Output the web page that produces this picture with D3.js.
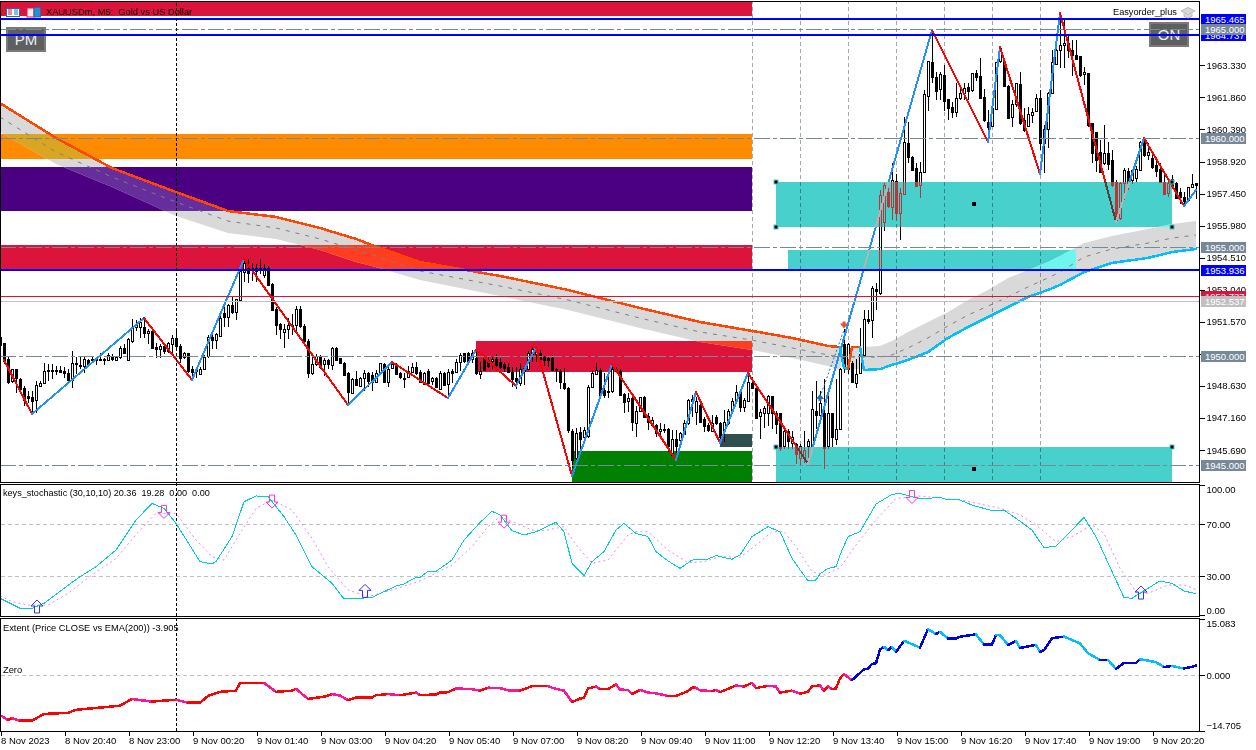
<!DOCTYPE html>
<html>
<head>
<meta charset="utf-8">
<script src="https://cdn.jsdelivr.net/npm/d3@7"></script>
<style>
html, body { margin: 0; padding: 0; background: #fff; }
svg { display: block; }
text { font-family: "Liberation Sans", sans-serif; font-size: 9.5px; fill: #000; white-space: pre; }
</style>
</head>
<body>
<div id="chart"></div>
<script>
// bars, dollars above the 1950 handle
const barOpen = [
.89,.58,-.15,-1.15,-.61,-1.04,-1.45,-1.83,-1.87,-2.06,-1.35,-1.22,-.62,-.64,-.66,-.64,-.69,-.76,-1.07,-.31,
-.40,-.46,-.18,-.18,-.18,-.15,-.12,-.18,0,-.18,-.03,.38,-.18,.69,1.30,1.35,1.35,1.07,1.15,.43,
.31,.46,.23,.58,.84,.46,-.08,.12,-.61,-.64,-.80,-.58,0,.89,.73,.95,1.96,1.76,2.32,2.02,
2.57,3.85,4.05,4.05,3.90,4.05,3.75,4.05,3.32,2.17,1.45,1.07,1.22,1.41,1.45,2.14,1.38,.69,-.80,-.38,
-.03,-.38,-.18,-.38,.38,-.09,-.31,-.80,-1.68,-1.04,-1.35,-.99,-.80,-.89,-1.19,-.80,-.38,-1.19,-.58,-.38,
-.80,-.99,-.95,-.73,-.49,-.72,-1.25,-.67,-1.18,-.99,-1.53,-.76,-1.25,-.67,-.72,-.26,.12,.15,-.15,-.11,
-.80,-.11,-.18,-.26,-.15,-.26,-.37,-.49,-.72,-1.02,-1.25,-.57,-.57,.09,.09,.15,-.06,-.11,-.11,-.61,
-.67,-1.25,-1.48,-3.42,-4.69,-3.47,-3.70,-3.70,-1.44,-.83,-.64,-1.56,-1.67,-1.64,-.61,-.67,-1.74,-2.09,-1.94,-3.06,
-2.52,-1.90,-2.75,-3.17,-3.17,-3.47,-3.36,-3.36,-4.54,-3.82,-3.85,-3.58,-3.09,-1.99,-2.55,-2.25,-2.91,-3.17,-3.42,-2.81,
-3.09,-3.42,-3.06,-2.48,-2.05,-1.64,-2.32,-2.05,-1.25,-1.48,-2.75,-2.60,-2.60,-1.83,-2.63,-2.60,-4.13,-3.44,-3.98,-4.05,
-4.66,-4.62,-4.13,-4.13,-2.52,-2.68,-2.60,-4.13,-2.63,-3.78,-3.33,.54,-.61,-.34,-1.22,-.81,.05,1.71,1.68,3.09,
2.89,6.16,7.54,6.85,8.03,6.54,7.46,9.76,9.14,8.61,7.87,8.46,11.94,13.50,12.81,12.23,12.89,11.77,11.41,11.16,
11.82,12.05,12.32,12.17,12.97,12.85,11.87,10.75,10.52,11.36,13.50,13.50,12.40,10.93,11.54,12.48,10.83,10.52,11.09,11.21,
11.82,9.76,10.40,12.05,13.39,14.04,14.27,14.34,14.04,13.81,13.76,12.94,13.0,10.67,10.26,9.37,8.84,9.33,8.99,8.0,
6.31,7.92,8.5,8.07,8.2,8.53,9.91,9.22,9.07,8.76,8.6,8.0,7.46,8.1,7.95,7.54,7.28,7.16,7.74,7.92];
const barClose = [
.54,-.23,-1.19,-.61,-1.04,-1.48,-1.99,-1.94,-2.06,-1.35,-1.22,-.69,-.66,-.66,-.68,-.73,-.80,-1.07,-.31,-.37,
-.46,-.15,-.38,-.15,-.15,-.12,-.18,.03,-.12,-.05,.38,.15,.80,1.35,1.45,1.56,1.07,1.15,.38,.34,
.46,.23,.58,.84,.46,-.08,.12,-.69,-.73,-.70,-.58,-.03,.89,.73,.99,1.76,1.76,2.32,2.02,2.60,
3.90,4.28,3.82,4.0,4.05,3.94,4.05,3.29,2.14,1.45,1.22,1.22,1.41,1.35,2.17,1.35,.69,-.80,-.38,0,
-.49,-.18,-.38,.38,-.15,-.31,-.84,-1.68,-1.04,-1.30,-.99,-.76,-1.15,-1.22,-.76,-.34,-1.19,-.58,-.38,-.84,
-.99,-1.03,-.69,-.49,-.76,-1.18,-.76,-1.22,-1.02,-1.41,-.80,-1.33,-.72,-.75,-.26,.05,-.26,-.21,.12,-.80,
-.67,-.64,-.46,-.15,-.41,-.49,-.57,-.72,-1.02,-1.18,-.61,-.72,.15,.31,.20,-.11,-.21,-.18,-.64,-.67,
-1.18,-1.48,-3.42,-4.74,-3.55,-3.78,-3.39,-1.44,-.80,-.64,-1.79,-1.79,-1.61,-.61,-.72,-1.79,-2.09,-1.94,-3.06,-2.52,
-1.90,-2.81,-3.01,-2.94,-3.55,-3.36,-3.39,-4.16,-3.82,-4.13,-3.55,-3.09,-2.02,-2.09,-2.05,-3.01,-3.24,-3.42,-3.06,-3.09,
-3.73,-3.01,-2.51,-2.05,-1.67,-2.32,-2.02,-1.18,-1.48,-2.86,-2.57,-2.37,-1.83,-2.63,-3.13,-4.20,-3.44,-3.90,-3.70,-4.51,
-4.13,-4.31,-3.90,-2.45,-2.72,-2.14,-4.20,-2.60,-3.75,-3.33,-.58,-.54,.54,-1.22,-.81,.08,1.68,1.64,3.13,2.98,
7.4,7.84,6.88,8.07,6.54,7.46,9.83,9.14,8.53,7.80,8.46,12.02,13.55,12.81,12.16,12.92,11.71,11.36,11.16,11.82,
12.05,12.28,12.13,12.97,12.77,11.82,10.80,10.52,11.36,13.50,14.11,12.40,10.93,11.54,12.51,10.67,10.37,11.09,11.21,11.82,
9.76,10.41,12.05,13.47,14.04,14.27,14.37,14.0,13.81,13.61,12.89,13.04,10.6,9.3,8.99,8.46,9.30,8.84,7.84,6.24,
7.92,8.53,7.92,8.53,8.6,9.83,9.22,9.37,8.68,8.5,8.0,7.46,7.92,7.84,7.28,7.3,7.08,7.74,7.9,7.84];
const barHigh = [
.95,.58,0,-.58,-.58,-.99,-1.38,-1.61,-1.61,-1.15,-1.15,-.31,-.38,-.38,-.46,-.46,-.49,-.61,.23,-.03,
-.03,-.03,-.15,-.03,-.08,.12,-.08,.12,.08,0,.46,.54,.84,1.71,1.65,1.76,1.76,1.22,1.22,.61,
.54,.54,.64,.95,1.15,.54,.18,.15,-.46,-.54,-.49,.03,.95,.99,1.04,1.91,2.29,2.37,2.75,2.63,
3.98,4.46,4.43,4.28,4.20,4.43,4.20,4.13,3.36,2.26,1.50,1.45,1.76,1.91,2.29,2.29,1.45,.76,.03,.08,
.03,-.08,-.15,.43,.43,-.08,-.28,-.73,-.99,-.69,-.95,-.64,-.73,-.73,-.64,-.31,-.31,-.46,-.23,-.31,
-.73,-.76,-.46,-.31,-.28,-.64,-.72,-.61,-.95,-.95,-.67,-.72,-.61,-.61,-.15,.15,.15,.20,.28,.28,
-.26,0,-.03,-.03,.09,-.11,-.26,-.34,-.49,-.49,-.34,-.49,.24,.43,.35,.28,0,0,.05,-.57,
-.61,-.57,-1.44,-3.36,-3.32,-3.24,-3.24,-1.33,-.67,-.34,-.57,-.80,-.80,-.41,-.49,-.61,-1.68,-1.71,-1.87,-2.29,
-1.87,-1.83,-2.63,-2.81,-3.12,-3.09,-3.12,-3.32,-3.39,-3.39,-3.47,-2.94,-1.99,-1.79,-1.87,-2.20,-2.78,-3.09,-2.71,-2.71,
-3.01,-2.48,-2.45,-1.94,-1.33,-1.56,-1.94,-.83,-.95,-1.41,-2.45,-2.29,-1.80,-1.83,-2.52,-2.60,-3.36,-3.36,-3.44,-3.98,
-4.05,-3.44,-3.82,-1.61,-1.15,-1.61,-1.07,-1.83,-2.60,-1.07,-.54,1.22,.58,-.23,-.15,1.30,2.11,2.11,3.21,3.36,
7.6,7.92,7.69,8.84,8.35,7.69,10.98,10.75,9.17,8.84,8.91,12.20,13.55,14.95,13.04,13.04,13.35,11.77,11.67,12.51,
12.28,12.51,12.51,13.0,13.12,13.65,12.23,11.28,11.74,13.50,14.14,13.58,12.43,11.74,12.54,13.04,11.36,11.41,11.36,12.02,
12.20,10.60,12.13,14.04,14.65,15.72,15.4,14.7,14.5,14.5,13.76,13.27,13.0,10.67,10.29,9.91,10.6,9.83,9.45,8.07,
8.0,8.61,8.61,8.6,8.7,9.88,9.94,9.75,9.27,9.14,8.84,8.38,8.07,8.3,8.0,7.7,7.54,7.77,8.35,7.95];
const barLow = [
.46,-.38,-1.30,-1.22,-1.71,-1.68,-2.29,-2.14,-2.60,-2.60,-1.38,-1.25,-1.15,-1.07,-.89,-.80,-.99,-1.15,-1.45,-.84,
-.61,-.76,-.46,-.31,-.43,-.23,-.43,-.23,-.23,-.23,-.15,.12,-.23,.61,1.15,.84,.84,.54,.31,-.08,
-.08,.08,.15,0,.38,-.31,-.15,-.76,-1.04,-.99,-.84,-.61,-.08,.31,.34,.89,1.35,1.35,1.91,1.64,
2.52,3.39,3.36,3.44,3.39,3.75,3.59,3.24,2.11,.95,.76,.38,.76,.95,.99,1.30,.46,-.99,-.89,-.46,
-.61,-.92,-.61,-.64,-.18,-.34,-.89,-2.14,-1.71,-1.38,-1.38,-1.61,-1.41,-1.61,-1.22,-.84,-1.22,-1.41,-.61,-.89,
-1.04,-1.47,-.99,-.80,-.89,-1.25,-1.33,-1.33,-1.33,-1.48,-1.56,-1.38,-1.94,-1.25,-.76,-.67,-.34,-.26,-.34,-.87,
-1.07,-.67,-.57,-.61,-.67,-.61,-.72,-.80,-1.41,-1.53,-1.38,-1.33,-.61,-.26,-.26,-.34,-.46,-.52,-.67,-1.18,
-1.53,-1.56,-3.55,-5.15,-4.80,-4.54,-3.78,-3.78,-1.48,-.87,-1.83,-1.94,-1.94,-1.68,-.76,-1.83,-2.60,-2.55,-3.42,-3.70,
-2.55,-2.86,-3.39,-3.24,-3.70,-3.70,-3.55,-4.39,-4.62,-4.46,-4.01,-3.62,-3.17,-2.78,-3.17,-3.09,-3.47,-3.47,-3.47,-3.17,
-4.01,-3.93,-3.17,-2.55,-2.09,-2.55,-2.55,-2.09,-1.53,-2.91,-3.82,-3.29,-3.21,-3.36,-3.59,-4.36,-4.28,-4.28,-4.28,-4.97,
-5.05,-4.89,-4.86,-4.20,-3.36,-2.75,-5.20,-4.28,-4.16,-4.08,-3.36,-.80,-.84,-1.25,-1.45,-.84,0,1.45,.81,2.11,
2.8,5.75,6.77,6.24,6.24,5.32,7.46,8.84,8.50,7.77,7.26,8.38,11.25,12.51,11.74,11.74,11.25,10.83,10.90,10.95,
11.74,11.74,11.74,12.13,12.63,11.77,10.75,10.06,10.49,11.28,13.42,12.35,10.90,10.49,11.44,10.60,10.29,10.49,10.67,11.18,
9.45,8.38,9.53,12.02,13.35,13.20,13.2,13.65,12.84,13.6,12.78,12.43,10.52,8.84,8.46,8.38,8.76,8.53,7.77,6.16,
6.24,7.16,7.6,7.9,8.0,8.5,9.14,9.0,8.6,8.23,7.92,7.43,7.3,7.77,7.2,6.97,6.85,7.08,7.7,7.19];
const priceHandle = 1950;

// zigzag pivots
const zigBar = [1,8,36,48,61,87,98,112,119,129,134,143,153,169,174,180,187,202,233,247,250,260,265,279,286,296,299];
const zigPrice = [1949.82,1947.34,1951.74,1948.90,1954.45,1947.75,1949.72,1948.07,1950.28,1948.62,1950.41,1944.50,1949.63,1945.23,1948.35,1946.02,1949.22,1945.05,1964.95,1959.83,1964.17,1958.35,1965.73,1956.16,1959.99,1956.88,1957.61];

// averages and the grey band
const bandBar = [0,14,28,44,57,69,80,89,93,105,125,142,160,175,188,198,207,210,211,212,213,215,216,220,223,227,232,237,242,247,252,257,262,265,271,278,287,293,299];
const emaFast = [1961.60,1960.00,1958.62,1957.52,1956.65,1956.38,1955.87,1955.37,1955.09,1954.31,1953.67,1953.03,1952.20,1951.56,1951.15,1950.83,1950.46,1950.41,1949.45,1949.40,1950.41,1950.41,1949.36,1949.40,1949.59,1949.82,1950.18,1950.83,1951.33,1951.79,1952.25,1952.71,1953.03,1953.26,1953.85,1954.27,1954.50,1954.77,1954.91];
const emaSlow = [1960.27,1958.81,1957.75,1956.42,1955.64,1955.37,1954.86,1954.31,1954.13,1953.49,1952.75,1952.11,1951.28,1950.64,1950.28,1949.91,1949.54,1949.36,1950.41,1950.41,1949.40,1949.40,1950.41,1950.46,1950.69,1951.10,1951.56,1952.02,1952.57,1953.03,1953.58,1953.94,1954.31,1954.59,1955.18,1955.50,1955.83,1956.05,1956.19];
const emaMid = [1960.96,1959.36,1958.21,1957.06,1956.19,1955.87,1955.37,1954.86,1954.63,1953.90,1953.21,1952.57,1951.74,1951.10,1950.73,1950.37,1950.05,1949.95,1949.95,1949.95,1949.95,1949.95,1949.95,1949.95,1950.05,1950.37,1950.83,1951.38,1951.88,1952.29,1952.71,1953.17,1953.58,1953.85,1954.54,1954.91,1955.18,1955.41,1955.55];

// supply and demand zones
const zoneKind = ["crimson","orange","indigo","crimson","crimson","green","slate","cyan","cyan","cyan"];
const zoneFromBar = [0,0,0,0,119,143,180,194,197,194];
const zoneToBar = [188,188,188,188,188,188,188,293,269,293];
const zoneHigh = [1966.24,1960.18,1958.67,1955.09,1950.69,1945.64,1946.42,1957.98,1954.86,1945.83];
const zoneLow = [1965.60,1959.04,1956.65,1953.94,1949.27,1944.22,1945.83,1955.92,1953.99,1944.22];

// horizontal levels
const levelPrice = [1964.737,1965.465,1965,1960,1955,1953.936,1952.737,1952.537,1950,1945];
const levelKind = ["blue","blue","round","round","round","blue","red","silver","round","round"];

const priceTicks = [1963.33,1961.86,1960.39,1958.92,1957.45,1955.98,1954.51,1953.04,1951.57,1950.10,1948.63,1947.16,1945.69];
const hiddenPriceLabel = 1950.10;
const hourBars = [188,200,212,224,236,248,260];

const timeBars = [0,16,32,48,64,80,96,112,128,144,160,176,192,208,224,240,256,272,288];
const timeLabels = ["8 Nov 2023","8 Nov 20:40","8 Nov 23:00","9 Nov 00:20","9 Nov 01:40","9 Nov 03:00","9 Nov 04:20","9 Nov 05:40","9 Nov 07:00","9 Nov 08:20","9 Nov 09:40","9 Nov 11:00","9 Nov 12:20","9 Nov 13:40","9 Nov 15:00","9 Nov 16:20","9 Nov 17:40","9 Nov 19:00","9 Nov 20:20"];

// keys_stochastic
const stochBar = [0,5,8,11,16,20,24,29,34,38,41,44,50,53,54,58,61,64,67,71,74,78,83,86,90,93,99,101,104,105,107,109,113,116,120,123,125,128,131,134,139,141,143,146,148,151,154,156,159,162,164,167,170,173,177,179,183,185,188,192,195,198,202,204,205,207,209,210,212,215,219,223,225,230,235,237,240,243,248,251,254,258,261,264,268,271,274,281,283,287,290,293,296,299];
const stochMain = [13.1,5.4,5.4,9.2,20.8,29.7,37.4,50.2,73.3,86.1,82.3,70.7,41.3,39.5,41.3,60.5,87.4,91.8,91.3,75.9,61.8,37.4,24.6,12.6,13.1,13.8,22.5,24.1,29.2,29.2,33.8,33.8,42.5,57.9,71.3,80,77.2,65.1,61.8,64.3,71.5,64.3,40,30.5,41.3,49,65.6,70.7,63,60.5,49,41.8,36.1,42.5,43.3,45.9,43.1,46.4,60.5,68.2,64.3,43.8,26.4,27.2,31.8,36.1,37.4,46.4,60.5,64.3,85.6,93,93.8,89.5,90.7,88.7,88.7,84.8,80.5,81,74.6,65.6,52,53.3,65.6,75.4,60.5,13.6,13.1,20.8,26.4,24.6,18.7,16.6];
const signalBar = [0,3,7,12,17,23,29,35,39,44,49,53,56,60,64,68,73,78,82,87,92,98,105,108,113,118,122,125,128,133,136,141,144,148,152,157,159,162,167,172,176,180,185,188,193,196,199,203,206,210,214,219,224,230,236,241,245,250,255,259,264,268,273,276,280,284,287,292,296,299];
const stochSignal = [15.1,10.5,7.9,7.9,16.9,31,43.8,65.6,78.4,78.4,57.9,45.1,42.5,63.1,82.3,88.7,81,59.2,37.4,19.5,14.3,19.5,26.4,31,38.7,52.8,68.2,75.9,72,65.6,65.1,68.2,54.1,40,42.5,61.8,64.3,64.3,50.2,40.5,41.3,45.1,44.6,51.5,64.3,64.3,52.8,33.6,31,36.5,54.1,73.3,90,91.8,90,88.2,85.6,82.3,77.2,69.5,56.6,60.5,69.5,63.1,36.1,18.2,16.9,23.3,23.3,20];
const stochLevels = [70,30];
const stochTicks = [100,70,30,0];
const upArrowBar = [9,91,285];
const upArrowValue = [1.8,13.8,12.5];
const downArrowBar = [41,68,126,228];
const downArrowValue = [84.5,92.5,77,96];

// Extent
const extentBar = [0,2,3,5,8,11,17,19,23,30,33,35,38,44,47,50,52,55,59,60,66,69,73,74,77,81,83,85,87,89,93,94,97,100,104,105,109,110,112,114,118,120,122,125,127,130,133,137,138,141,143,145,146,147,149,150,152,154,155,157,158,160,162,164,167,169,172,173,174,175,178,179,180,184,186,188,189,192,194,195,198,200,202,203,205,206,207,208,209,210,211,213,216,217,218,219,220,221,222,223,224,226,230,232,234,235,237,239,240,244,246,248,249,250,252,254,255,259,260,261,263,266,270,272,275,277,279,281,284,285,289,291,293,296,298,299];
const extentValue = [-10.6,-11.9,-11.4,-12.1,-12.1,-10.3,-10,-9.2,-8.8,-8.1,-6.3,-6.6,-7,-6.5,-7.3,-7.3,-5.5,-4.4,-4.1,-2,-2,-4.4,-4.1,-3.6,-6.3,-5.7,-5,-5.4,-6.6,-5.9,-5.9,-5.3,-5,-5.3,-4.6,-5.3,-5.1,-4.6,-4.5,-3.5,-3.7,-4.1,-3.3,-3.4,-4,-4.1,-2.9,-2.9,-3.3,-4.1,-7.1,-6.2,-6,-3.5,-3,-3.7,-3.7,-2.4,-3.8,-3.9,-5,-3.9,-4.6,-4.8,-5.5,-5.5,-4.2,-3.3,-3.3,-4,-4.2,-3.9,-4.5,-2.7,-3,-2,-3.4,-2.8,-3,-4.6,-4.1,-4.9,-4.4,-2.9,-2.7,-4.2,-2.9,-3.7,-3.5,-.8,.3,-1.3,1.6,1.8,3,3.2,6.9,7.6,6.7,7.6,6.2,9.2,7.4,12.3,11,11.6,9.8,9.8,10.3,10.9,8.2,8.2,10.8,10.7,8.1,9.1,7.3,8.1,6.2,6.7,9.9,10.3,8.5,5.9,4.1,4.1,1.7,3.3,3.3,4.3,3.5,2.2,2.5,1.8,2.3,2.6];
const extentTicks = [15.083,0,-14.705];

const width = 1256, height = 750;
const colors = {
    crimson: "#dc143c", orange: "#ff8c00", indigo: "#4b0082", green: "#008000", slate: "#2f4f4f", cyan: "#48d1cc",
    blue: "#0000ff", round: "#778899", red: "#dc143c", silver: "#c0c0c0"
};
const bandTint = {crimson: "#ff3d20", orange: "#daa520", indigo: "#662d9c", cyan: "#6ff5ef"};

const svg = d3.select("#chart").append("svg").attr("width", width).attr("height", height);
const defs = svg.append("defs");

const x = d3.scaleLinear().domain([0, 300]).range([0, 1200]);
const y = d3.scaleLinear().domain([1945, 1965]).range([465, 29]);
const y_stoch = d3.scaleLinear().domain([0, 100]).range([615.3, 485.3]);
const y_ext = d3.scaleLinear().domain([-14.705, 15.083]).range([730.5, 618.7]);

const bars = d3.range(barOpen.length).map(i => ({
    i, o: priceHandle + barOpen[i], c: priceHandle + barClose[i], h: priceHandle + barHigh[i], l: priceHandle + barLow[i]
}));
const zones = zoneKind.map((kind, i) => ({kind, from: zoneFromBar[i], to: zoneToBar[i], hi: zoneHigh[i], lo: zoneLow[i]}));

// clip paths, one per zone colour
["crimson", "orange", "indigo", "cyan"].forEach(kind => {
    defs.append("clipPath").attr("id", `clip_${kind}`).selectAll("rect")
        .data(zones.filter(z => z.kind === kind)).enter().append("rect")
        .attr("x", d => x(d.from)).attr("y", d => y(d.hi))
        .attr("width", d => x(d.to) - x(d.from)).attr("height", d => y(d.lo) - y(d.hi));
});
defs.append("clipPath").attr("id", "clip_main").append("rect").attr("x", 1).attr("y", 2).attr("width", 1198).attr("height", 480);

const main = svg.append("g").attr("clip-path", "url(#clip_main)");

// zones
main.append("g").selectAll("rect").data(zones).enter().append("rect")
    .attr("x", d => x(d.from)).attr("y", d => Math.round(y(d.hi)))
    .attr("width", d => x(d.to) - x(d.from))
    .attr("height", d => Math.round(y(d.lo)) - Math.round(y(d.hi)))
    .attr("fill", d => colors[d.kind]);

// band, retinted where it crosses a zone
const band_idx = d3.range(bandBar.length);
const band_area = d3.area().x(i => x(bandBar[i])).y0(i => y(emaFast[i])).y1(i => y(emaSlow[i]));
main.append("path").attr("d", band_area(band_idx)).attr("fill", "#d9d9d9");
Object.keys(bandTint).forEach(kind => {
    main.append("g").attr("clip-path", `url(#clip_${kind})`).append("path")
        .attr("d", band_area(band_idx)).attr("fill", bandTint[kind]);
});

// hour separators
main.append("g").selectAll("line").data(hourBars).enter().append("line")
    .attr("x1", d => x(d) + .5).attr("x2", d => x(d) + .5).attr("y1", 0).attr("y2", 482)
    .attr("stroke", "#a6a6a6").attr("stroke-dasharray", "4,3").style("mix-blend-mode", "multiply");

// candles
function draw_candles(parent, color, bull_fill) {
    const g = parent.append("g").attr("shape-rendering", "crispEdges");
    g.selectAll("line").data(bars).enter().append("line")
        .attr("x1", d => x(d.i) + .5).attr("x2", d => x(d.i) + .5)
        .attr("y1", d => y(d.h)).attr("y2", d => y(d.l))
        .attr("stroke", color);
    g.selectAll("rect").data(bars).enter().append("rect")
        .attr("x", d => x(d.i) - .5).attr("width", 2)
        .attr("y", d => Math.round(y(Math.max(d.o, d.c))) + .5)
        .attr("height", d => Math.max(0.5, Math.abs(y(d.o) - y(d.c))))
        .attr("stroke", color)
        .attr("fill", d => d.c >= d.o ? bull_fill : color);
}
draw_candles(main, "#000", "#fff");
draw_candles(main.append("g").attr("clip-path", "url(#clip_cyan)"), "#b23a3a", colors.cyan);

// zigzag
const zig_idx = d3.range(zigBar.length - 1);
function draw_zigzag(parent, up_color, down_color) {
    parent.append("g").attr("shape-rendering", "crispEdges").selectAll("line").data(zig_idx).enter().append("line")
        .attr("x1", i => x(zigBar[i])).attr("y1", i => y(zigPrice[i]))
        .attr("x2", i => x(zigBar[i + 1])).attr("y2", i => y(zigPrice[i + 1]))
        .attr("stroke", i => zigPrice[i + 1] > zigPrice[i] ? up_color : down_color)
        .attr("stroke-width", 2).attr("stroke-linecap", "round");
}
draw_zigzag(main, "#1e90ff", "#ff0000");
draw_zigzag(main.append("g").attr("clip-path", "url(#clip_cyan)"), "#b4b4b4", "#5c3b3b");

// ema lines
main.append("g").attr("shape-rendering", "crispEdges").selectAll("line").data(d3.range(bandBar.length - 1)).enter().append("line")
    .attr("x1", i => x(bandBar[i])).attr("y1", i => y(emaFast[i]))
    .attr("x2", i => x(bandBar[i + 1])).attr("y2", i => y(emaFast[i + 1]))
    .attr("stroke", i => emaFast[i + 1] >= emaSlow[i + 1] ? "#ff4500" : "#00bfff")
    .attr("stroke-width", 2.5).attr("stroke-linecap", "round");
main.append("path").attr("fill", "none").attr("stroke", "#808080").attr("stroke-dasharray", "4,6")
    .attr("d", d3.line().x(i => x(bandBar[i])).y(i => y(emaMid[i]))(band_idx));

// buttons sit under the level lines
const button_pm = main.append("g").attr("transform", "translate(6,27)");
const button_on = main.append("g").attr("transform", "translate(1149,22)");
[[button_pm, "PM"], [button_on, "ON"]].forEach(([g, label]) => {
    g.append("rect").attr("width", 40).attr("height", 25).attr("fill", "#7a7a7a");
    g.append("rect").attr("x", 2).attr("y", 2).attr("width", 36).attr("height", 21).attr("fill", "#5f5f5f");
    g.append("text").attr("x", 20).attr("y", 18).attr("text-anchor", "middle").text(label)
        .style("font-size", "15px").style("fill", "#e8f0f8");
});

// level lines
const levels = levelPrice.map((price, i) => ({price, kind: levelKind[i]}));
main.append("g").selectAll("line").data(levels).enter().append("line")
    .attr("x1", 0).attr("x2", 1200)
    .attr("y1", d => Math.round(y(d.price)) + (d.kind === "blue" ? 0 : .5))
    .attr("y2", d => Math.round(y(d.price)) + (d.kind === "blue" ? 0 : .5))
    .attr("stroke", d => colors[d.kind])
    .attr("stroke-width", d => d.kind === "blue" ? 2 : 1)
    .attr("stroke-dasharray", d => d.kind === "round" ? "16,3,4,3" : null);

// crosshair
svg.append("line").attr("x1", 176.5).attr("x2", 176.5).attr("y1", 3).attr("y2", 731)
    .attr("stroke", "#000").attr("stroke-dasharray", "3,2");

// zone anchors
const anchorBar = [194,194,293,293,243.5,194,293,243.5];
const anchorPrice = [1957.98,1955.92,1957.98,1955.92,1956.95,1945.83,1945.83,1944.8];
main.append("g").selectAll("rect").data(anchorBar).enter().append("rect")
    .attr("x", d => x(d) - 2).attr("y", (d, i) => Math.round(y(anchorPrice[i])) - 2)
    .attr("width", 4).attr("height", 4)
    .attr("fill", "#000")
    .attr("stroke", (d, i) => (i === 4 || i === 7) ? "none" : colors.cyan);

// trade arrows
main.append("line").attr("x1", x(205)).attr("y1", y(1948.12)).attr("x2", x(211)).attr("y2", y(1951.2))
    .attr("stroke", "#1f6fb0").attr("stroke-dasharray", "2,2");
main.append("path").attr("fill", "#1f6fb0")
    .attr("transform", `translate(${x(205)},${y(1948.12)})`).attr("d", "M-4,2L0,-3L4,2L1.5,2L1.5,4L-1.5,4L-1.5,2Z");
main.append("path").attr("fill", "#e8502a")
    .attr("transform", `translate(${x(211)},${y(1951.4)})`).attr("d", "M-4,-2L0,3L4,-2L1.5,-2L1.5,-4L-1.5,-4L-1.5,-2Z");

// stochastic pane
svg.append("g").selectAll("line").data(stochLevels).enter().append("line")
    .attr("x1", 1).attr("x2", 1199).attr("y1", d => Math.round(y_stoch(d)) + .5).attr("y2", d => Math.round(y_stoch(d)) + .5)
    .attr("stroke", "#c0c0c0").attr("stroke-dasharray", "4,3");
svg.append("path").attr("fill", "none").attr("stroke", "#ee82ee").attr("stroke-dasharray", "2,3")
    .attr("d", d3.line().x((d, i) => x(signalBar[i])).y(d => y_stoch(d))(stochSignal));
svg.append("path").attr("fill", "none").attr("stroke", "#00ced1").attr("shape-rendering", "crispEdges")
    .attr("d", d3.line().x((d, i) => x(stochBar[i])).y(d => y_stoch(d))(stochMain));

svg.append("g").selectAll("path").data(upArrowBar).enter().append("path")
    .attr("transform", (d, i) => `translate(${x(d) + 1},${y_stoch(upArrowValue[i])})`)
    .attr("d", "M-2.5,0V-7H-6L0,-13L6,-7H2.5V0Z").attr("fill", "none").attr("stroke", "#3a2cf0");
svg.append("g").selectAll("path").data(downArrowBar).enter().append("path")
    .attr("transform", (d, i) => `translate(${x(d)},${y_stoch(downArrowValue[i])})`)
    .attr("d", "M-2.5,0V7H-6L0,13L6,7H2.5V0Z").attr("fill", "none").attr("stroke", "#ff33dd");

// extent pane
svg.append("line").attr("x1", 1).attr("x2", 1199).attr("y1", Math.round(y_ext(0)) + .5).attr("y2", Math.round(y_ext(0)) + .5)
    .attr("stroke", "#c0c0c0").attr("stroke-dasharray", "4,3");
svg.append("g").attr("shape-rendering", "crispEdges").selectAll("line").data(d3.range(extentBar.length - 1)).enter().append("line")
    .attr("x1", i => x(extentBar[i])).attr("y1", i => y_ext(extentValue[i]))
    .attr("x2", i => x(extentBar[i + 1])).attr("y2", i => y_ext(extentValue[i + 1]))
    .attr("stroke-width", 2.5).attr("stroke-linecap", "round")
    .attr("stroke", i => {
        const rising = extentValue[i + 1] >= extentValue[i];
        if (extentBar[i] >= 213) return rising ? "#0000e6" : "#00bfff";
        return rising ? "#ff0000" : "#ff1493";
    });

// frames
const frames = [[.5, 1.5, 1199, 481], [.5, 484.5, 1199, 132], [.5, 618.5, 1199, 113]];
svg.append("g").selectAll("rect").data(frames).enter().append("rect")
    .attr("x", d => d[0]).attr("y", d => d[1]).attr("width", d => d[2]).attr("height", d => d[3])
    .attr("fill", "none").attr("stroke", "#000");

// axes
function style_axis(g) {
    g.select(".domain").remove();
    g.selectAll("line").attr("stroke", "#000").attr("shape-rendering", "crispEdges");
    g.selectAll("text").attr("fill", "#000").style("font-size", "9.5px");
}
svg.append("g").attr("transform", "translate(1199.5,0)")
    .call(d3.axisRight(y).tickValues(priceTicks).tickFormat(d => d === hiddenPriceLabel ? "" : d3.format(".3f")(d)).tickSize(5).tickPadding(2))
    .call(style_axis);
svg.append("g").attr("transform", "translate(1199.5,0)")
    .call(d3.axisRight(y_stoch).tickValues(stochTicks).tickFormat(d3.format(".2f")).tickSize(5).tickPadding(2))
    .call(style_axis)
    .call(g => g.selectAll("text").attr("dy", d => d === 100 ? "0.75em" : d === 0 ? "-0.2em" : "0.32em"));
svg.append("g").attr("transform", "translate(1199.5,0)")
    .call(d3.axisRight(y_ext).tickValues(extentTicks).tickFormat(d3.format(".3f")).tickSize(5).tickPadding(2))
    .call(style_axis)
    .call(g => g.selectAll("text").attr("dy", d => d > 10 ? "0.8em" : d < -10 ? "-0.2em" : "0.32em"));
svg.append("g").attr("transform", "translate(0.5,731.5)")
    .call(d3.axisBottom(x).tickValues(timeBars).tickFormat((d, i) => timeLabels[i]).tickSize(4).tickPadding(2))
    .call(style_axis)
    .call(g => g.selectAll("text").attr("text-anchor", "start").attr("x", 0));

// price tags
const tags = svg.append("g").selectAll("g").data(levels).enter().append("g")
    .attr("transform", d => `translate(1201,${Math.round(y(d.price)) - 5})`);
tags.append("rect").attr("width", 45).attr("height", 11).attr("fill", d => colors[d.kind]);
tags.append("text").attr("x", 4).attr("y", 9).text(d => d3.format(".3f")(d.price)).style("fill", "#fff");

// titles
svg.append("text").attr("x", 46).attr("y", 15).text("XAUUSDm, M5:  Gold vs US Dollar").style("font-size", "9.3px");
svg.append("text").attr("x", 1113).attr("y", 15).text("Easyorder_plus").style("font-size", "9.2px");
svg.append("text").attr("x", 3).attr("y", 496).text("keys_stochastic (30,10,10) 20.36  19.28  0.00  0.00").style("font-size", "9.1px");
svg.append("text").attr("x", 3).attr("y", 631).text("Extent (Price CLOSE vs EMA(200)) -3.905").style("font-size", "9.3px");
svg.append("text").attr("x", 3).attr("y", 673).text("Zero").style("font-size", "9.3px");

// chart icons
const icon = svg.append("g");
icon.append("rect").attr("x", 6.5).attr("y", 8.5).attr("width", 13).attr("height", 8).attr("fill", "#fff").attr("stroke", "#1e6fb0");
icon.selectAll(".row").data([10, 12, 14]).enter().append("line").attr("x1", 8).attr("x2", 12).attr("y1", d => d).attr("y2", d => d).attr("stroke", "#dc143c");
icon.selectAll(".col").data([10, 12, 14]).enter().append("line").attr("x1", 14).attr("x2", 18).attr("y1", d => d).attr("y2", d => d).attr("stroke", "#1e6fb0");
icon.append("rect").attr("x", 27).attr("y", 8).attr("width", 7).attr("height", 9).attr("fill", "#fbeaea").attr("stroke", "#dc143c");
icon.append("rect").attr("x", 34).attr("y", 7.5).attr("width", 6.5).attr("height", 9.5).attr("fill", "#2a8fd0").attr("stroke", "#1e6fb0");
icon.append("path").attr("d", "M1181,11l7,-3.5l7,3.5l-7,3.5z M1184,13.5v3l4,1.5l4,-1.5v-3").attr("fill", "#d8d8d8").attr("stroke", "#b8b8b8");
</script>
</body>
</html>
